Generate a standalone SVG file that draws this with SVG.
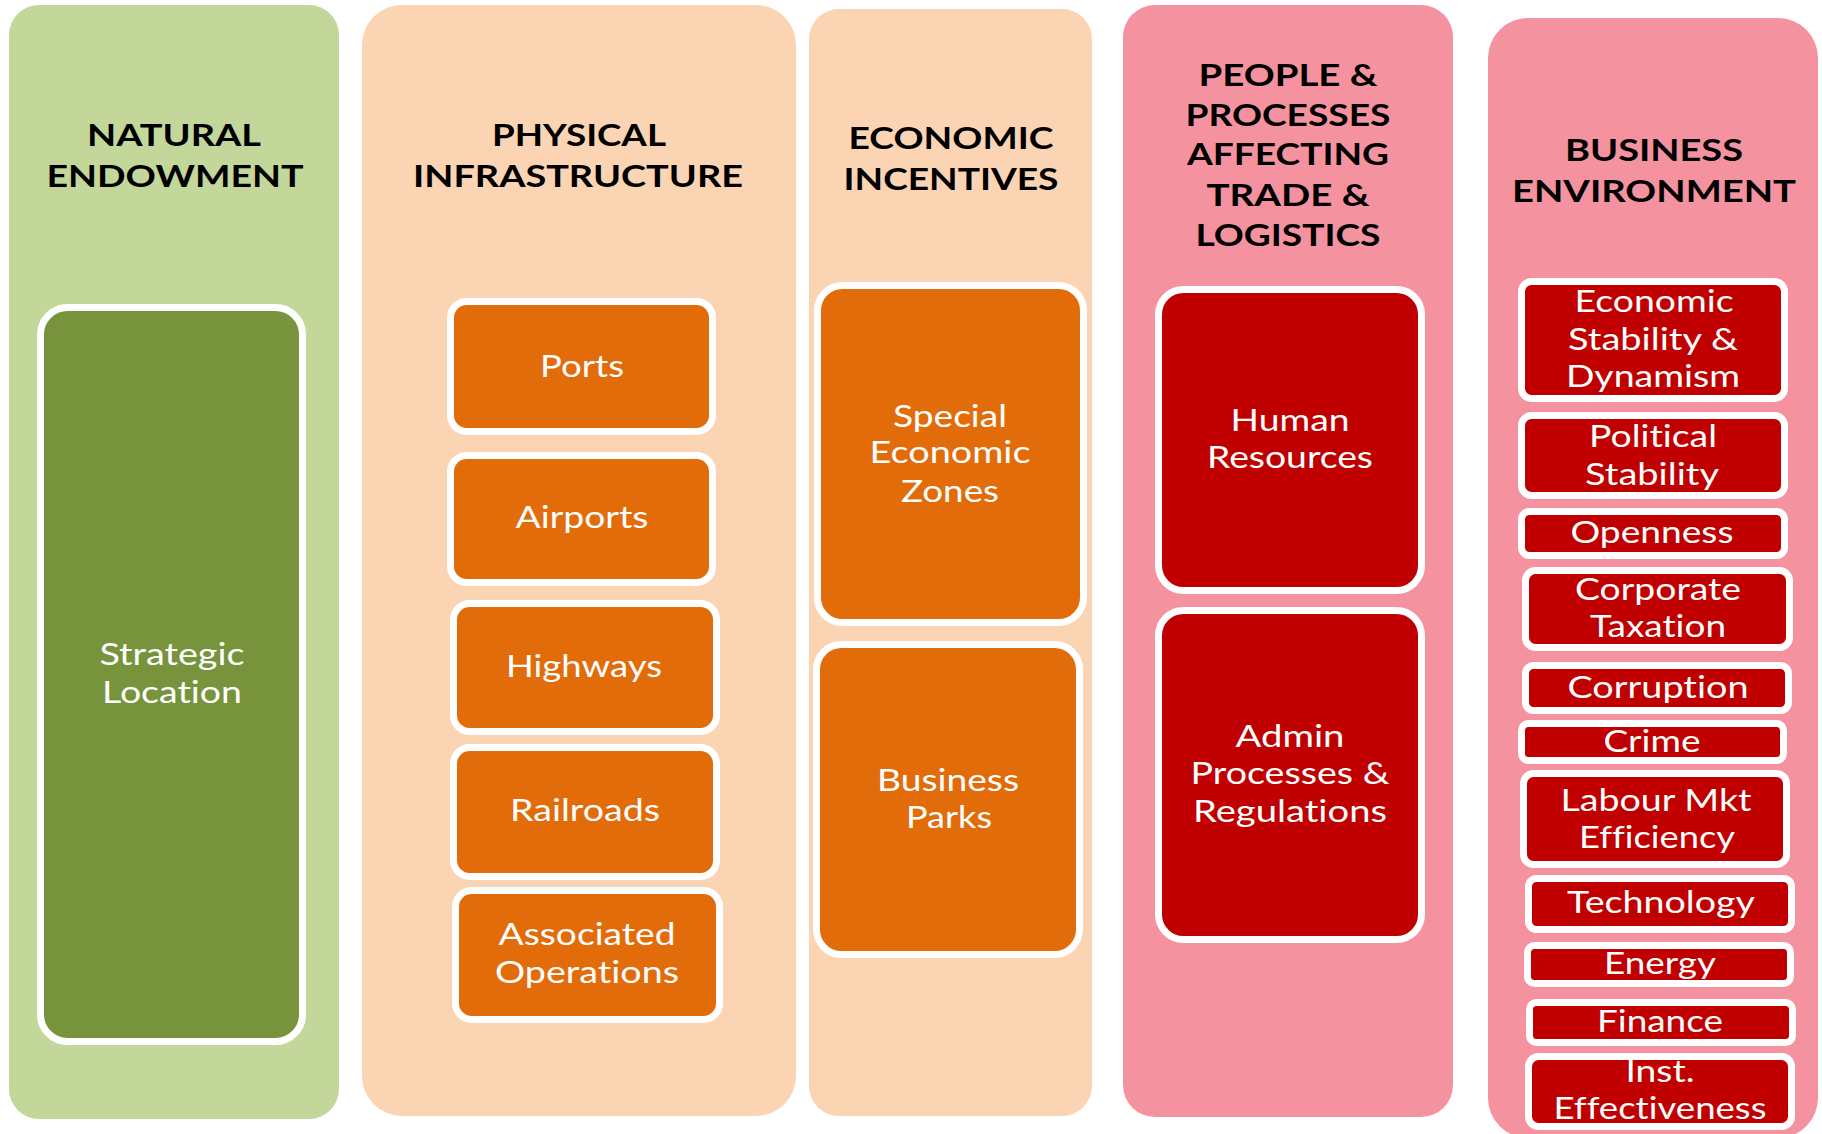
<svg xmlns="http://www.w3.org/2000/svg" width="1822" height="1134" viewBox="0 0 1822 1134">
<style>
.h{font-family:Lato,"Open Sans","Liberation Sans",sans-serif;font-weight:700;font-size:31px;fill:#000;text-anchor:middle;font-variant-ligatures:none}
.t{font-family:Lato,"Open Sans","Liberation Sans",sans-serif;font-size:30px;fill:#fff;text-anchor:middle;font-variant-ligatures:none}
.b{stroke:#fff;stroke-width:7}
.green{fill:#77933C}.orange{fill:#E36C0A}.red{fill:#C00000}
</style>
<rect width="1822" height="1134" fill="#fff"/>
<g id="col-natural">
<rect x="9" y="5" width="330" height="1114" rx="30" fill="#C4D79B"/>
<text class="h" x="174" y="146" textLength="174" lengthAdjust="spacingAndGlyphs">NATURAL</text>
<text class="h" x="175" y="187" textLength="257" lengthAdjust="spacingAndGlyphs">ENDOWMENT</text>
</g>
<g id="col-physical">
<rect x="362" y="5" width="434" height="1111" rx="40" fill="#FBD4B4"/>
<text class="h" x="579" y="146" textLength="174" lengthAdjust="spacingAndGlyphs">PHYSICAL</text>
<text class="h" x="578" y="187" textLength="330" lengthAdjust="spacingAndGlyphs">INFRASTRUCTURE</text>
</g>
<g id="col-economic">
<rect x="809" y="9" width="283" height="1107" rx="30" fill="#FBD4B4"/>
<text class="h" x="951" y="149" textLength="205" lengthAdjust="spacingAndGlyphs">ECONOMIC</text>
<text class="h" x="951" y="190" textLength="215" lengthAdjust="spacingAndGlyphs">INCENTIVES</text>
</g>
<g id="col-people">
<rect x="1123" y="5" width="330" height="1112" rx="32" fill="#F4939F"/>
<text class="h" x="1288" y="86" textLength="179" lengthAdjust="spacingAndGlyphs">PEOPLE &amp;</text>
<text class="h" x="1288" y="126" textLength="205" lengthAdjust="spacingAndGlyphs">PROCESSES</text>
<text class="h" x="1288" y="165" textLength="202" lengthAdjust="spacingAndGlyphs">AFFECTING</text>
<text class="h" x="1288" y="206" textLength="163" lengthAdjust="spacingAndGlyphs">TRADE &amp;</text>
<text class="h" x="1288" y="246" textLength="185" lengthAdjust="spacingAndGlyphs">LOGISTICS</text>
</g>
<g id="col-business">
<rect x="1488" y="18" width="330" height="1120" rx="40" fill="#F4939F"/>
<text class="h" x="1654" y="161" textLength="178" lengthAdjust="spacingAndGlyphs">BUSINESS</text>
<text class="h" x="1654" y="202" textLength="284" lengthAdjust="spacingAndGlyphs">ENVIRONMENT</text>
</g>

<g id="strategic-location">
<rect class="b green" x="40.5" y="307.5" width="262" height="734" rx="27"/>
<text class="t" x="172" y="665" textLength="145" lengthAdjust="spacingAndGlyphs">Strategic</text>
<text class="t" x="172" y="703" textLength="140" lengthAdjust="spacingAndGlyphs">Location</text>
</g>
<g id="ports">
<rect class="b orange" x="450.5" y="301.5" width="262" height="130" rx="16"/>
<text class="t" x="582" y="377" textLength="84" lengthAdjust="spacingAndGlyphs">Ports</text>
</g>
<g id="airports">
<rect class="b orange" x="450.5" y="455.5" width="262" height="127" rx="16"/>
<text class="t" x="582" y="528" textLength="133" lengthAdjust="spacingAndGlyphs">Airports</text>
</g>
<g id="highways">
<rect class="b orange" x="453.5" y="603.5" width="263" height="128" rx="16"/>
<text class="t" x="584" y="677" textLength="156" lengthAdjust="spacingAndGlyphs">Highways</text>
</g>
<g id="railroads">
<rect class="b orange" x="453.5" y="747.5" width="263" height="129" rx="16"/>
<text class="t" x="585" y="821" textLength="150" lengthAdjust="spacingAndGlyphs">Railroads</text>
</g>
<g id="associated-operations">
<rect class="b orange" x="455.5" y="890.5" width="264" height="129" rx="16"/>
<text class="t" x="587" y="945" textLength="177" lengthAdjust="spacingAndGlyphs">Associated</text>
<text class="t" x="587" y="983" textLength="184" lengthAdjust="spacingAndGlyphs">Operations</text>
</g>
<g id="special-economic-zones">
<rect class="b orange" x="817.5" y="285.5" width="266" height="337" rx="25"/>
<text class="t" x="950" y="427" textLength="114" lengthAdjust="spacingAndGlyphs">Special</text>
<text class="t" x="950" y="463" textLength="161" lengthAdjust="spacingAndGlyphs">Economic</text>
<text class="t" x="950" y="502" textLength="98" lengthAdjust="spacingAndGlyphs">Zones</text>
</g>
<g id="business-parks">
<rect class="b orange" x="816.5" y="644.5" width="263" height="310" rx="25"/>
<text class="t" x="948" y="791" textLength="142" lengthAdjust="spacingAndGlyphs">Business</text>
<text class="t" x="949" y="828" textLength="86" lengthAdjust="spacingAndGlyphs">Parks</text>
</g>
<g id="human-resources">
<rect class="b red" x="1158.5" y="289.5" width="263" height="301" rx="25"/>
<text class="t" x="1290" y="431" textLength="119" lengthAdjust="spacingAndGlyphs">Human</text>
<text class="t" x="1290" y="468" textLength="166" lengthAdjust="spacingAndGlyphs">Resources</text>
</g>
<g id="admin-processes">
<rect class="b red" x="1158.5" y="610.5" width="263" height="329" rx="25"/>
<text class="t" x="1290" y="747" textLength="109" lengthAdjust="spacingAndGlyphs">Admin</text>
<text class="t" x="1290" y="784" textLength="199" lengthAdjust="spacingAndGlyphs">Processes &amp;</text>
<text class="t" x="1290" y="822" textLength="194" lengthAdjust="spacingAndGlyphs">Regulations</text>
</g>
<g id="economic-stability">
<rect class="b red" x="1521.5" y="281.5" width="263" height="117" rx="10"/>
<text class="t" x="1654" y="312" textLength="159" lengthAdjust="spacingAndGlyphs">Economic</text>
<text class="t" x="1653" y="350" textLength="170" lengthAdjust="spacingAndGlyphs">Stability &amp;</text>
<text class="t" x="1653" y="387" textLength="174" lengthAdjust="spacingAndGlyphs">Dynamism</text>
</g>
<g id="political-stability">
<rect class="b red" x="1521.5" y="415.5" width="263" height="80" rx="10"/>
<text class="t" x="1653" y="447" textLength="128" lengthAdjust="spacingAndGlyphs">Political</text>
<text class="t" x="1652" y="485" textLength="134" lengthAdjust="spacingAndGlyphs">Stability</text>
</g>
<g id="openness">
<rect class="b red" x="1521.5" y="511.5" width="263" height="44" rx="8"/>
<text class="t" x="1652" y="543" textLength="163" lengthAdjust="spacingAndGlyphs">Openness</text>
</g>
<g id="corporate-taxation">
<rect class="b red" x="1525.5" y="570.5" width="264" height="77" rx="10"/>
<text class="t" x="1658" y="600" textLength="166" lengthAdjust="spacingAndGlyphs">Corporate</text>
<text class="t" x="1658" y="637" textLength="136" lengthAdjust="spacingAndGlyphs">Taxation</text>
</g>
<g id="corruption">
<rect class="b red" x="1525.5" y="665.5" width="263" height="45" rx="8"/>
<text class="t" x="1658" y="698" textLength="181" lengthAdjust="spacingAndGlyphs">Corruption</text>
</g>
<g id="crime">
<rect class="b red" x="1521.5" y="723.5" width="262" height="37" rx="7"/>
<text class="t" x="1652" y="752" textLength="97" lengthAdjust="spacingAndGlyphs">Crime</text>
</g>
<g id="labour-mkt">
<rect class="b red" x="1523.5" y="773.5" width="263" height="91" rx="10"/>
<text class="t" x="1656" y="811" textLength="191" lengthAdjust="spacingAndGlyphs">Labour Mkt</text>
<text class="t" x="1657" y="848" textLength="156" lengthAdjust="spacingAndGlyphs">Efficiency</text>
</g>
<g id="technology">
<rect class="b red" x="1528.5" y="878.5" width="263" height="51" rx="8"/>
<text class="t" x="1661" y="913" textLength="188" lengthAdjust="spacingAndGlyphs">Technology</text>
</g>
<g id="energy">
<rect class="b red" x="1527.5" y="945.5" width="263" height="38" rx="7"/>
<text class="t" x="1660" y="974" textLength="112" lengthAdjust="spacingAndGlyphs">Energy</text>
</g>
<g id="finance">
<rect class="b red" x="1529.5" y="1002.5" width="263" height="40" rx="7"/>
<text class="t" x="1660" y="1032" textLength="126" lengthAdjust="spacingAndGlyphs">Finance</text>
</g>
<g id="inst-effectiveness">
<rect class="b red" x="1528.5" y="1056.5" width="263" height="70" rx="10"/>
<text class="t" x="1660" y="1082" textLength="69" lengthAdjust="spacingAndGlyphs">Inst.</text>
<text class="t" x="1660" y="1119" textLength="213" lengthAdjust="spacingAndGlyphs">Effectiveness</text>
</g>
<g id="connectors"/>
</svg>
